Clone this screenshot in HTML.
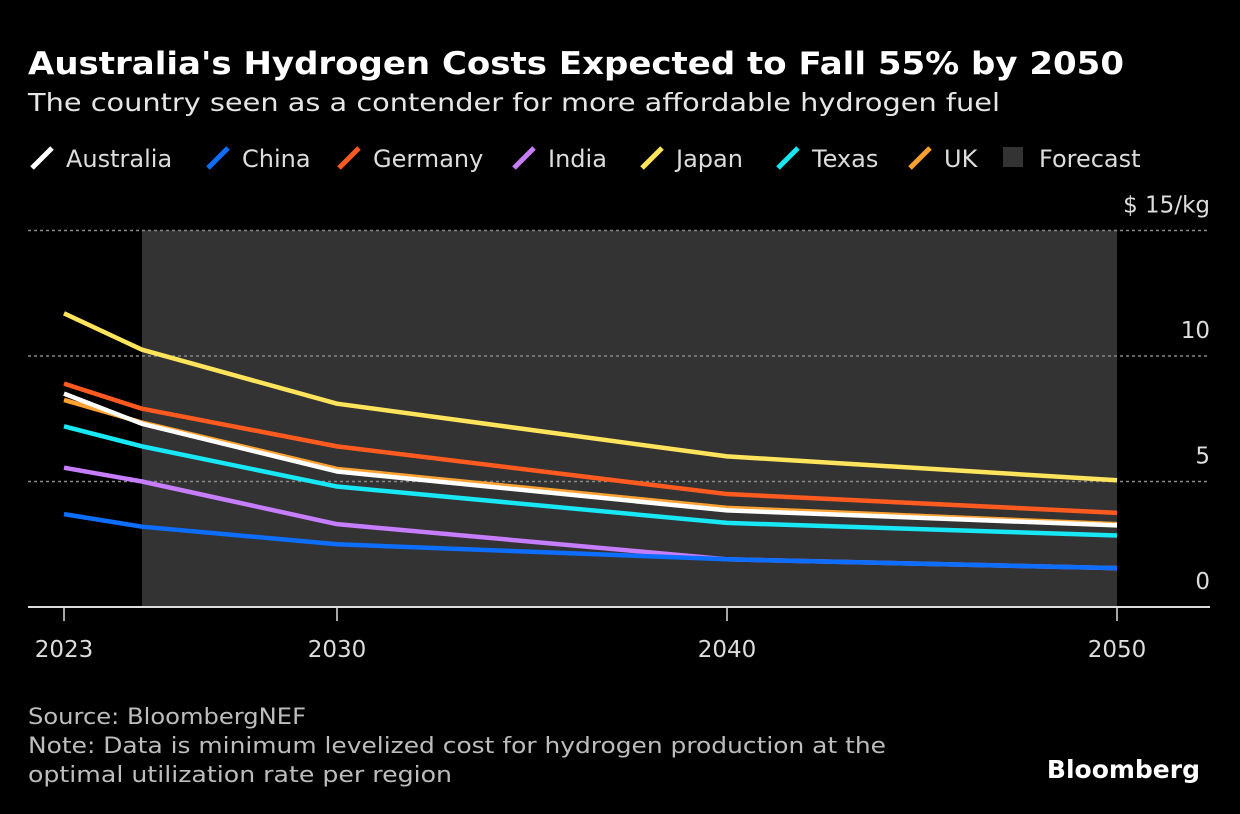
<!DOCTYPE html>
<html><head><meta charset="utf-8">
<style>
html,body{margin:0;padding:0;background:#000;width:1240px;height:814px;overflow:hidden;font-family:"DejaVu Sans",sans-serif;color:#fff}
svg text{font-family:"DejaVu Sans","Liberation Sans",sans-serif}
</style></head>
<body>
<svg width="1240" height="814" xmlns="http://www.w3.org/2000/svg">
<text x="28" y="74" font-size="31" font-weight="bold" fill="#fff" textLength="1096" lengthAdjust="spacingAndGlyphs">Australia's Hydrogen Costs Expected to Fall 55% by 2050</text>
<text x="28" y="111" font-size="25" fill="#e6e6e6" textLength="972" lengthAdjust="spacingAndGlyphs">The country seen as a contender for more affordable hydrogen fuel</text>
<g id="legend"></g>
<g id="plot"></g>
<text x="28" y="724" font-size="22" fill="#bdbdbd" textLength="278" lengthAdjust="spacingAndGlyphs">Source: BloombergNEF</text>
<text x="28" y="753" font-size="22" fill="#bdbdbd" textLength="858" lengthAdjust="spacingAndGlyphs">Note: Data is minimum levelized cost for hydrogen production at the</text>
<text x="28" y="782" font-size="22" fill="#bdbdbd" textLength="424" lengthAdjust="spacingAndGlyphs">optimal utilization rate per region</text>
<text x="1200" y="778" font-size="25" font-weight="bold" fill="#fff" text-anchor="end" font-family="Liberation Sans">Bloomberg</text>
</svg>
<script>
const years=[2023,2025,2030,2040,2050];
const seriesNames=["Australia","China","Germany","India","Japan","Texas","UK"];
const colors=["#ffffff","#0d6efd","#ff5a1f","#c77dff","#ffe45c","#18e8f5","#ffa232"];
const australia=[8.5,7.3,5.4,3.85,3.25];
const china=[3.7,3.2,2.5,1.9,1.55];
const germany=[8.9,7.9,6.4,4.5,3.75];
const india=[5.55,5.0,3.3,1.9,1.55];
const japan=[11.7,10.25,8.1,6.0,5.05];
const texas=[7.2,6.4,4.8,3.35,2.85];
const uk=[8.25,7.35,5.5,3.95,3.3];
const yTicks=[0,5,10,15];
const xTicks=[2023,2030,2040,2050];
const forecastStart=2025, forecastEnd=2050;
const NS="http://www.w3.org/2000/svg";
const X=y=>64+(y-2023)*39;
const Y=v=>607-v*25.1;
const plot=document.getElementById('plot'),legend=document.getElementById('legend');
function mk(tag,attrs,parent){const e=document.createElementNS(NS,tag);for(const k in attrs)e.setAttribute(k,attrs[k]);parent.appendChild(e);return e;}
let r=mk('rect',{x:X(forecastStart),y:Y(15),width:X(forecastEnd)-X(forecastStart),height:Y(0)-Y(15),fill:'#333'},plot);


yTicks.forEach(t=>{
 if(t>0){let l=mk('line',{x1:28,x2:1210,y1:Y(t),y2:Y(t),stroke:'#888','stroke-width':1.5,'stroke-dasharray':'3,3'},plot);
 
 }
 let tx=mk('text',{x:1210,y:Y(t)-18,'font-size':23,fill:'#ddd','text-anchor':'end'},plot);
 tx.textContent=t==15?'$ 15/kg':String(t);
 
 
});
let base=mk('line',{x1:28,x2:1210,y1:Y(0),y2:Y(0),stroke:'#ddd','stroke-width':2},plot);


xTicks.forEach(t=>{
 let l=mk('line',{x1:X(t),x2:X(t),y1:Y(0),y2:Y(0)+14,stroke:'#ddd','stroke-width':1.5},plot);
 
 
 let tx=mk('text',{x:X(t),y:657,'font-size':23,fill:'#ddd','text-anchor':'middle'},plot);
 tx.textContent=t;
 
 
});
const data=[australia,china,germany,india,japan,texas,uk];
const drawOrder=[3,5,6,0,2,4,1];
drawOrder.forEach(i=>{
 let p=mk('polyline',{points:years.map((y,j)=>X(y)+','+Y(data[i][j])).join(' '),fill:'none',stroke:colors[i],'stroke-width':4.5,'stroke-linejoin':'round'},plot);
 
 
});
const lx=[30,206,337,512,640,776,908,1003];
seriesNames.concat(['Forecast']).forEach((n,i)=>{
 let g=mk('g',{},legend);
 
 
 if(i<7) mk('line',{x1:lx[i]+2,y1:168,x2:lx[i]+22,y2:148,stroke:colors[i],'stroke-width':5},g);
 else mk('rect',{x:lx[i],y:147,width:20,height:20,fill:'#333'},g);
 let t=mk('text',{x:lx[i]+36,y:167,'font-size':24,fill:'#ddd'},g);t.textContent=n;
});
</script>
</body></html>
